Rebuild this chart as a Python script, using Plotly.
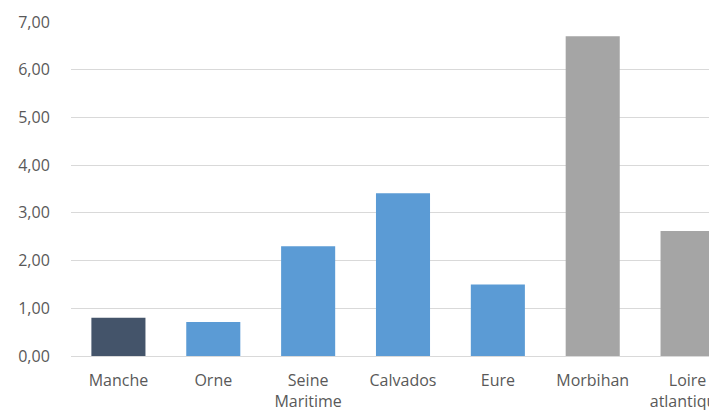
import plotly.graph_objects as go

# Chart data
departements = ["Manche", "Orne", "Seine<br>Maritime", "Calvados", "Eure", "Morbihan", "Loire<br>atlantique"]
valeurs = [0.80, 0.71, 2.30, 3.41, 1.50, 6.70, 2.62]
couleurs = ["#44546A", "#5B9BD5", "#5B9BD5", "#5B9BD5", "#5B9BD5", "#A5A5A5", "#A5A5A5"]
y_ticks = [0, 1, 2, 3, 4, 5, 6, 7]

fig = go.Figure()
fig.add_trace(
    go.Bar(
        x=list(range(len(departements))),
        y=valeurs,
        marker=dict(color=couleurs, line=dict(width=0)),
        hoverinfo="skip",
    )
)

# page body adds an 8px margin, so the figure is offset to compensate;
# plot area runs past the window's right edge like the original
fig.update_layout(
    width=727,
    height=402,
    plot_bgcolor="white",
    paper_bgcolor="white",
    separators=", ",
    bargap=0.43,
    showlegend=False,
    margin=dict(l=63, r=0, t=14, b=54, autoexpand=False),
    font=dict(family="Open Sans, Carlito, Liberation Sans, sans-serif", size=16, color="#595959"),
)

fig.update_xaxes(
    tickmode="array",
    tickvals=list(range(len(departements))),
    ticktext=departements,
    range=[-0.5, 6.5],
    automargin=False,
    ticklabeloverflow="allow",
    showgrid=False,
    showline=False,
    zeroline=False,
    ticks="outside",
    ticklen=10,
    tickcolor="rgba(0,0,0,0)",
    tickfont=dict(size=16, color="#595959"),
)

fig.update_yaxes(
    range=[0, 7],
    tickmode="array",
    tickvals=y_ticks,
    tickformat=".2f",
    automargin=False,
    showgrid=True,
    gridcolor="#D9D9D9",
    gridwidth=1,
    zeroline=True,
    zerolinecolor="#D9D9D9",
    zerolinewidth=1,
    showline=False,
    ticks="outside",
    ticklen=17,
    tickcolor="rgba(0,0,0,0)",
    tickfont=dict(size=16, color="#595959"),
)

# no scrollbars eating into the page
no_scroll = "document.documentElement.style.overflow='hidden';document.body.style.overflow='hidden';"
fig.write_html("out.html", post_script=no_scroll)
